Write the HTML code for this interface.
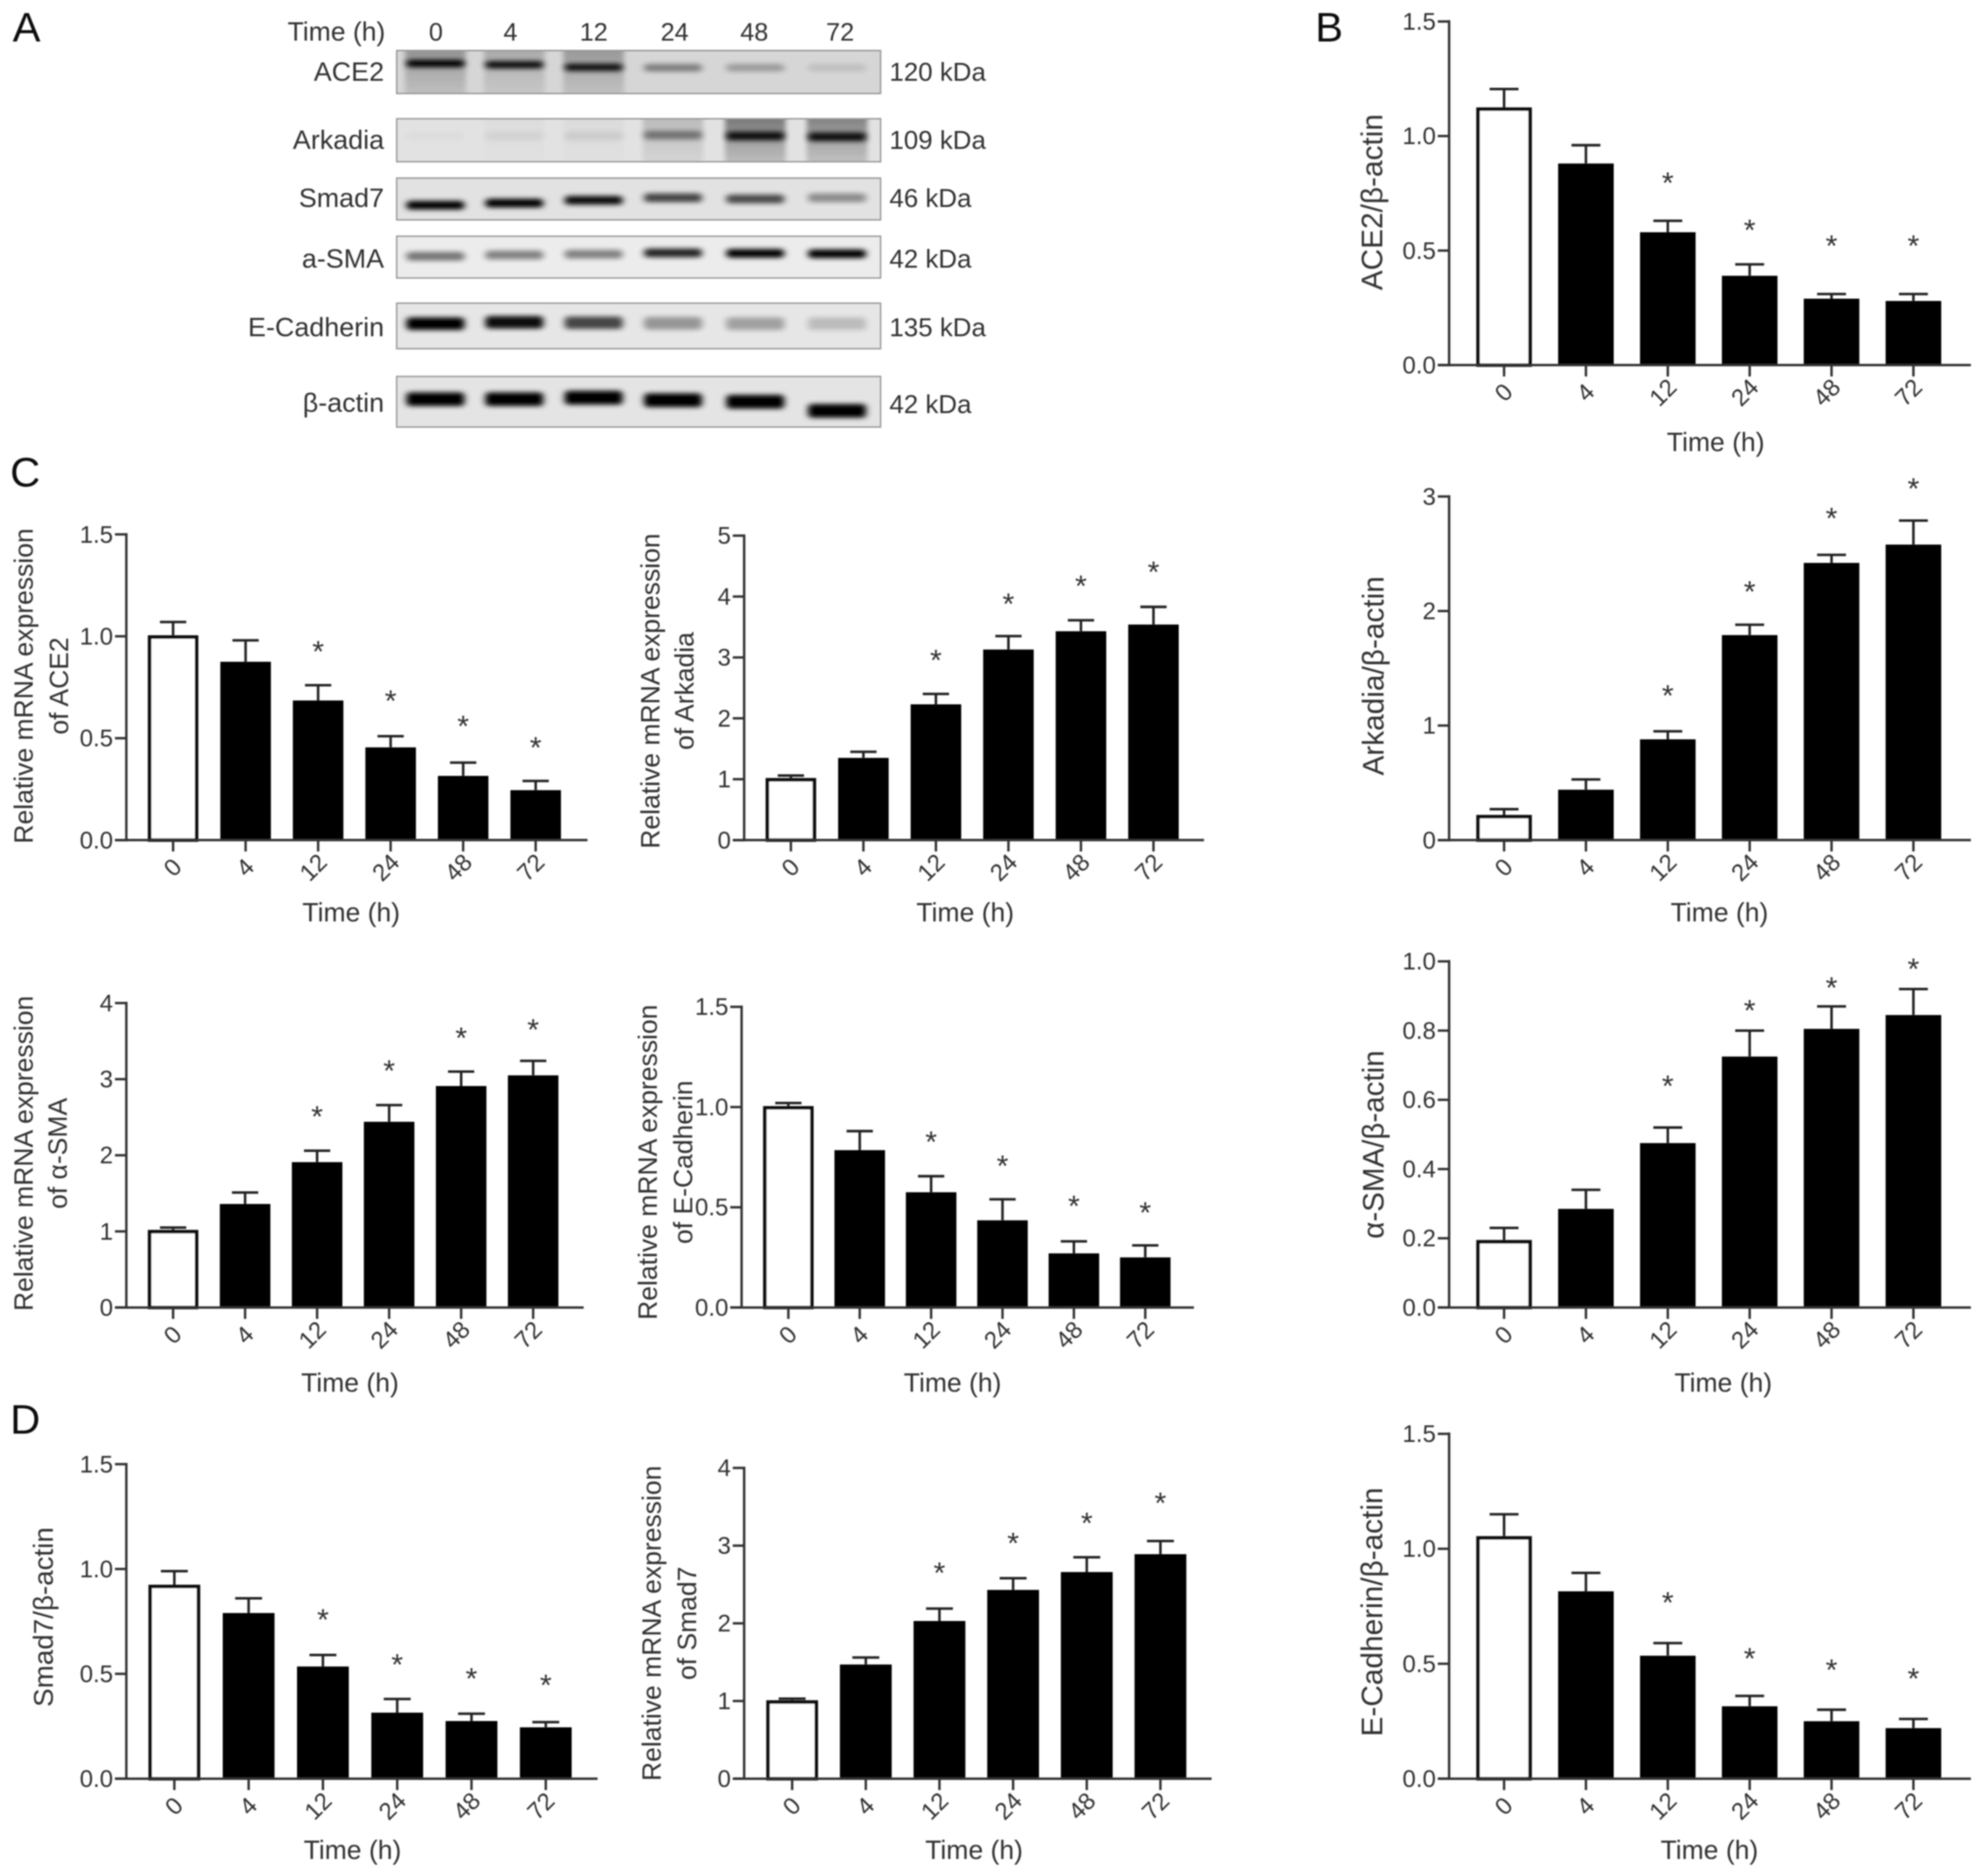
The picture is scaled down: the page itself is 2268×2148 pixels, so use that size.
<!DOCTYPE html>
<html lang="en">
<head>
<meta charset="utf-8">
<title>Time course of ACE2, Arkadia, Smad7, a-SMA and E-Cadherin</title>
<style>
  html, body { margin: 0; padding: 0; background: #fff; }
  svg { display: block; }
  text { font-family: "Liberation Sans", "DejaVu Sans", sans-serif; fill: #333; }
</style>
</head>
<body>
<svg id="figure" xmlns="http://www.w3.org/2000/svg" width="2268" height="2148" viewBox="0 0 1568 1485">
  <defs>
    <filter id="band-blur" x="-30%" y="-150%" width="160%" height="400%"><feGaussianBlur stdDeviation="2.8 1.9"/></filter>
    <filter id="smear-blur" x="-20%" y="-20%" width="140%" height="140%"><feGaussianBlur stdDeviation="2"/></filter>
    <filter id="soft" x="-5%" y="-5%" width="110%" height="110%"><feGaussianBlur stdDeviation="0.5"/></filter>
    <linearGradient id="smear-grad" x1="0" y1="0" x2="0" y2="1">
      <stop offset="0" stop-color="#000" stop-opacity="1"/>
      <stop offset="0.55" stop-color="#000" stop-opacity="0.55"/>
      <stop offset="1" stop-color="#000" stop-opacity="0.3"/>
    </linearGradient>
  </defs>
  <rect width="1568" height="1485" fill="#fff"/>
  <g id="root" filter="url(#soft)">
    <g font-size="33">
      <text x="10" y="33" style="fill:#111">A</text>
      <text x="1041" y="33" style="fill:#111">B</text>
      <text x="8" y="385" style="fill:#111">C</text>
      <text x="8" y="1135" style="fill:#111">D</text>
    </g>
    <g id="blot"></g>
    <g id="charts"></g>
  </g>
</svg>
<script>
// ---------- Shared categories ----------
const categories = ["0", "4", "12", "24", "48", "72"];

// ---------- Panel B: protein / beta-actin ----------
const ace2ProteinMeans = [1.125, 0.88, 0.58, 0.39, 0.29, 0.28];
const ace2ProteinErrors = [0.08, 0.08, 0.05, 0.05, 0.02, 0.03];
const ace2ProteinStars = [null, null, 0.805, 0.60, 0.53, 0.53];
const ace2ProteinTicks = ["0.0", "0.5", "1.0", "1.5"];

const arkadiaProteinMeans = [0.22, 0.44, 0.88, 1.79, 2.42, 2.58];
const arkadiaProteinErrors = [0.05, 0.09, 0.07, 0.09, 0.07, 0.21];
const arkadiaProteinStars = [null, null, 1.28, 2.19, 2.83, 3.09];
const arkadiaProteinTicks = ["0", "1", "2", "3"];

const smaProteinMeans = [0.195, 0.285, 0.475, 0.725, 0.805, 0.845];
const smaProteinErrors = [0.035, 0.055, 0.045, 0.075, 0.065, 0.075];
const smaProteinStars = [null, null, 0.646, 0.865, 0.93, 0.985];
const smaProteinTicks = ["0.0", "0.2", "0.4", "0.6", "0.8", "1.0"];

const ecadProteinMeans = [1.055, 0.815, 0.535, 0.315, 0.25, 0.22];
const ecadProteinErrors = [0.095, 0.08, 0.055, 0.045, 0.05, 0.04];
const ecadProteinStars = [null, null, 0.775, 0.533, 0.483, 0.445];
const ecadProteinTicks = ["0.0", "0.5", "1.0", "1.5"];

// ---------- Panel C: relative mRNA ----------
const ace2MrnaMeans = [1.005, 0.875, 0.685, 0.455, 0.315, 0.245];
const ace2MrnaErrors = [0.065, 0.105, 0.075, 0.055, 0.065, 0.045];
const ace2MrnaStars = [null, null, 0.936, 0.694, 0.57, 0.465];
const ace2MrnaTicks = ["0.0", "0.5", "1.0", "1.5"];

const arkadiaMrnaMeans = [1.02, 1.35, 2.23, 3.13, 3.43, 3.54];
const arkadiaMrnaErrors = [0.04, 0.10, 0.17, 0.22, 0.18, 0.29];
const arkadiaMrnaStars = [null, null, 2.99, 3.92, 4.21, 4.44];
const arkadiaMrnaTicks = ["0", "1", "2", "3", "4", "5"];

const smaMrnaMeans = [1.02, 1.36, 1.91, 2.44, 2.91, 3.05];
const smaMrnaErrors = [0.03, 0.15, 0.15, 0.22, 0.19, 0.19];
const smaMrnaStars = [null, null, 2.54, 3.14, 3.57, 3.68];
const smaMrnaTicks = ["0", "1", "2", "3", "4"];

const ecadMrnaMeans = [1.005, 0.785, 0.575, 0.435, 0.27, 0.25];
const ecadMrnaErrors = [0.015, 0.095, 0.08, 0.105, 0.06, 0.06];
const ecadMrnaStars = [null, null, 0.838, 0.718, 0.517, 0.485];
const ecadMrnaTicks = ["0.0", "0.5", "1.0", "1.5"];

// ---------- Panel D: Smad7 ----------
const smad7ProteinMeans = [0.925, 0.79, 0.535, 0.315, 0.275, 0.245];
const smad7ProteinErrors = [0.065, 0.07, 0.055, 0.065, 0.035, 0.025];
const smad7ProteinStars = [null, null, 0.77, 0.554, 0.488, 0.458];
const smad7ProteinTicks = ["0.0", "0.5", "1.0", "1.5"];

const smad7MrnaMeans = [1.01, 1.47, 2.03, 2.43, 2.66, 2.89];
const smad7MrnaErrors = [0.02, 0.09, 0.16, 0.15, 0.19, 0.17];
const smad7MrnaStars = [null, null, 2.68, 3.06, 3.32, 3.58];
const smad7MrnaTicks = ["0", "1", "2", "3", "4"];

// ---------- Western blot intensities (0..1 per lane) ----------
const blotRows = ["ACE2", "Arkadia", "Smad7", "a-SMA", "E-Cadherin", "β-actin"];
const blotSizes = ["120 kDa", "109 kDa", "46 kDa", "42 kDa", "135 kDa", "42 kDa"];
const ace2Bands = [1, 0.92, 0.9, 0.42, 0.28, 0.1];
const arkadiaBands = [0.02, 0.05, 0.08, 0.42, 0.9, 0.9];
const smad7Bands = [1, 1, 0.95, 0.7, 0.68, 0.38];
const smaBands = [0.5, 0.45, 0.45, 0.85, 1, 1];
const ecadBands = [1, 0.95, 0.7, 0.35, 0.3, 0.18];
const actinBands = [1, 1, 1, 1, 1, 1];

const SVGNS = "http://www.w3.org/2000/svg";
function make(tag, parent, attrs, text) {
  const el = document.createElementNS(SVGNS, tag);
  for (const k in attrs) el.setAttribute(k, attrs[k]);
  if (text !== undefined) el.textContent = text;
  parent.appendChild(el);
  return el;
}

// ---------- Chart drawing ----------
const chartLayouts = [
  { key: "ace2-protein", means: ace2ProteinMeans, errors: ace2ProteinErrors, stars: ace2ProteinStars, ticks: ace2ProteinTicks, yMax: 1.5,
    axisX: 1147, y0: 289, yTop: 17, first: 1190.5, step: 64.8, barW: 44, right: 1560, yTitle: ["ACE2/β-actin"], titleSize: 23.6, titleX: [1094], titleY: 160, xTitleX: 1358, xTitleY: 357 },
  { key: "arkadia-protein", means: arkadiaProteinMeans, errors: arkadiaProteinErrors, stars: arkadiaProteinStars, ticks: arkadiaProteinTicks, yMax: 3,
    axisX: 1147, y0: 665, yTop: 393, first: 1190.5, step: 64.8, barW: 44, right: 1560, yTitle: ["Arkadia/β-actin"], titleSize: 23.6, titleX: [1095], titleY: 535, xTitleX: 1361, xTitleY: 729.5 },
  { key: "sma-protein", means: smaProteinMeans, errors: smaProteinErrors, stars: smaProteinStars, ticks: smaProteinTicks, yMax: 1,
    axisX: 1147, y0: 1035, yTop: 761, first: 1190.5, step: 64.8, barW: 44, right: 1560, yTitle: ["α-SMA/β-actin"], titleSize: 23.4, titleX: [1095], titleY: 906, xTitleX: 1364, xTitleY: 1101.5 },
  { key: "ecad-protein", means: ecadProteinMeans, errors: ecadProteinErrors, stars: ecadProteinStars, ticks: ecadProteinTicks, yMax: 1.5,
    axisX: 1147, y0: 1408, yTop: 1135, first: 1190.5, step: 64.8, barW: 44, right: 1560, yTitle: ["E-Cadherin/β-actin"], titleSize: 23.6, titleX: [1094], titleY: 1276, xTitleX: 1353, xTitleY: 1471.5 },
  { key: "ace2-mrna", means: ace2MrnaMeans, errors: ace2MrnaErrors, stars: ace2MrnaStars, ticks: ace2MrnaTicks, yMax: 1.5,
    axisX: 100, y0: 665, yTop: 423, first: 137, step: 57.4, barW: 40, right: 465, yTitle: ["Relative mRNA expression", "of ACE2"], titleSize: 21, titleX: [26, 54], titleY: 543, xTitleX: 278, xTitleY: 729.5 },
  { key: "arkadia-mrna", means: arkadiaMrnaMeans, errors: arkadiaMrnaErrors, stars: arkadiaMrnaStars, ticks: arkadiaMrnaTicks, yMax: 5,
    axisX: 589, y0: 665, yTop: 424, first: 626, step: 57.4, barW: 40, right: 953, yTitle: ["Relative mRNA expression", "of Arkadia"], titleSize: 21, titleX: [522, 549], titleY: 547, xTitleX: 764, xTitleY: 729.5 },
  { key: "sma-mrna", means: smaMrnaMeans, errors: smaMrnaErrors, stars: smaMrnaStars, ticks: smaMrnaTicks, yMax: 4,
    axisX: 100, y0: 1035, yTop: 794, first: 137, step: 57, barW: 40, right: 462, yTitle: ["Relative mRNA expression", "of α-SMA"], titleSize: 21, titleX: [26, 53], titleY: 913, xTitleX: 277, xTitleY: 1101.5 },
  { key: "ecad-mrna", means: ecadMrnaMeans, errors: ecadMrnaErrors, stars: ecadMrnaStars, ticks: ecadMrnaTicks, yMax: 1.5,
    axisX: 587, y0: 1035, yTop: 797, first: 624, step: 56.5, barW: 40, right: 945, yTitle: ["Relative mRNA expression", "of E-Cadherin"], titleSize: 21, titleX: [520, 548], titleY: 920, xTitleX: 754, xTitleY: 1101.5 },
  { key: "smad7-protein", means: smad7ProteinMeans, errors: smad7ProteinErrors, stars: smad7ProteinStars, ticks: smad7ProteinTicks, yMax: 1.5,
    axisX: 100, y0: 1408, yTop: 1159, first: 138, step: 58.8, barW: 41, right: 473, yTitle: ["Smad7/β-actin"], titleSize: 22, titleX: [42], titleY: 1280, xTitleX: 279, xTitleY: 1471.5 },
  { key: "smad7-mrna", means: smad7MrnaMeans, errors: smad7MrnaErrors, stars: smad7MrnaStars, ticks: smad7MrnaTicks, yMax: 4,
    axisX: 589, y0: 1408, yTop: 1162, first: 627, step: 58.3, barW: 41, right: 959, yTitle: ["Relative mRNA expression", "of Smad7"], titleSize: 21, titleX: [523, 551], titleY: 1285, xTitleX: 771, xTitleY: 1471.5 }
];

function drawChart(c) {
  const host = document.getElementById("charts");
  const g = make("g", host, {});
  
  

  const yScale = v => c.y0 - (v / c.yMax) * (c.y0 - c.yTop);
  const xScale = i => c.first + i * c.step;

  // bars and error bars
  c.means.forEach((m, i) => {
    const cx = xScale(i);
    const top = yScale(m);
    const errTop = yScale(m + c.errors[i]);

    const stem = make("line", g, { x1: cx, x2: cx, y1: top, y2: errTop, stroke: "#222", "stroke-width": 2 });
    
    

    const cap = make("line", g, { x1: cx - c.barW * 0.26, x2: cx + c.barW * 0.26, y1: errTop, y2: errTop, stroke: "#222", "stroke-width": 2 });
    
    

    const isControl = i === 0;
    const bar = make("rect", g, {
      x: cx - c.barW / 2 + (isControl ? 1.4 : 0),
      y: top + (isControl ? 1.4 : 0),
      width: c.barW - (isControl ? 2.8 : 0),
      height: Math.max(0, c.y0 - top - (isControl ? 1.4 : 0)),
      fill: isControl ? "#fff" : "#000",
      stroke: isControl ? "#111" : "none",
      "stroke-width": isControl ? 2.8 : 0
    });
    
    

    if (c.stars[i] !== null) {
      const star = make("text", g, { x: cx, y: yScale(c.stars[i]) + 9.8, "text-anchor": "middle", "font-size": 24 }, "*");
      
      
    }
  });

  // y axis
  const yAxis = make("line", g, { x1: c.axisX, x2: c.axisX, y1: c.yTop - 1, y2: c.y0 + 1, stroke: "#333", "stroke-width": 1.9 });
  
  

  c.ticks.forEach((label, i) => {
    const v = (i / (c.ticks.length - 1)) * c.yMax;
    const y = yScale(v);
    const tick = make("line", g, { x1: c.axisX - 9, x2: c.axisX, y1: y, y2: y, stroke: "#333", "stroke-width": 1.9 });
    
    
    const tl = make("text", g, { x: c.axisX - 10.5, y: y + 6.5, "text-anchor": "end", "font-size": 19 }, label);
    
    
  });

  // x axis
  const xAxis = make("line", g, { x1: c.axisX - 9, x2: c.right, y1: c.y0, y2: c.y0, stroke: "#333", "stroke-width": 1.9 });
  
  

  categories.forEach((label, i) => {
    const cx = xScale(i);
    const tick = make("line", g, { x1: cx, x2: cx, y1: c.y0, y2: c.y0 + 9, stroke: "#333", "stroke-width": 1.9 });
    
    
    const lx = cx - (label.length > 1 ? 3.5 : 0);
    const ly = c.y0 + 22;
    const tl = make("text", g, { x: lx, y: ly + 6, "text-anchor": "middle", "font-size": 19, transform: "rotate(-45 " + lx + " " + ly + ")" }, label);
    
    
  });

  // titles
  c.yTitle.forEach((line, i) => {
    const tx = c.titleX[i];
    const t = make("text", g, { x: tx, y: c.titleY, "text-anchor": "middle", "font-size": c.titleSize, transform: "rotate(-90 " + tx + " " + c.titleY + ")" }, line);
    
    
  });
  const xt = make("text", g, { x: c.xTitleX, y: c.xTitleY, "text-anchor": "middle", "font-size": 21 }, "Time (h)");
  
  
}
chartLayouts.forEach(drawChart);

// ---------- Western blot drawing ----------
const blotX = 314, blotW = 383;
const laneFractions = [0.08, 0.243, 0.407, 0.571, 0.741, 0.91];
const laneLabelCenters = [345, 404, 470, 534, 597, 665];
const blotLayouts = [
  { bands: ace2Bands, top: 40, h: 34, bg: "#d6d6d6", labelY: 64, bandY: [0.3, 0.33, 0.39, 0.4, 0.4, 0.4], bandH: 6, smear: [0.36, 0.24, 0.34, 0, 0, 0] },
  { bands: arkadiaBands, top: 94, h: 34, bg: "#e2e2e2", labelY: 118, bandY: [0.4, 0.4, 0.4, 0.38, 0.4, 0.42], bandH: 7, smear: [0, 0.02, 0.03, 0.2, 0.55, 0.5] },
  { bands: smad7Bands, top: 141, h: 33, bg: "#e2e2e2", labelY: 164, bandY: [0.65, 0.6, 0.53, 0.47, 0.5, 0.47], bandH: 7, smear: [0, 0, 0, 0, 0, 0] },
  { bands: smaBands, top: 187, h: 33, bg: "#ececec", labelY: 212, bandY: [0.48, 0.45, 0.43, 0.4, 0.41, 0.42], bandH: 7, smear: [0, 0, 0, 0, 0, 0] },
  { bands: ecadBands, top: 240, h: 36, bg: "#e6e6e6", labelY: 266, bandY: [0.45, 0.42, 0.43, 0.44, 0.45, 0.45], bandH: 10, smear: [0, 0, 0, 0, 0, 0] },
  { bands: actinBands, top: 298, h: 40, bg: "#e4e4e4", labelY: 326, bandY: [0.45, 0.45, 0.42, 0.47, 0.5, 0.68], bandH: 11, smear: [0, 0, 0, 0, 0, 0] }
];

const blotHost = document.getElementById("blot");
const timeHeader = make("text", blotHost, { x: 305, y: 32, "text-anchor": "end", "font-size": 21 }, "Time (h)");



categories.forEach((label, i) => {
  const t = make("text", blotHost, { x: laneLabelCenters[i], y: 32, "text-anchor": "middle", "font-size": 20 }, label);
  
  
});

blotLayouts.forEach((b, r) => {
  const rowKey = blotRows[r].toLowerCase();
  const strip = make("g", blotHost, {});
  
  

  make("rect", strip, { x: blotX, y: b.top, width: blotW, height: b.h, fill: b.bg });
  const clipId = "clip-" + r;
  const clip = make("clipPath", strip, { id: clipId });
  make("rect", clip, { x: blotX, y: b.top, width: blotW, height: b.h });
  const inner = make("g", strip, { "clip-path": "url(#" + clipId + ")" });

  b.bands.forEach((v, i) => {
    const cx = blotX + laneFractions[i] * blotW;
    const w = 46;
    if (b.smear[i] > 0) {
      make("rect", inner, { x: cx - w / 2 - 1, y: b.top - 3, width: w + 2, height: b.h + 6, fill: "url(#smear-grad)", opacity: b.smear[i] * 0.9, filter: "url(#smear-blur)" });
    }
    const cy = b.top + b.bandY[i] * b.h;
    const band = make("rect", inner, { x: cx - w / 2, y: cy - b.bandH / 2, width: w, height: b.bandH, rx: 3, fill: "#000", opacity: v, filter: "url(#band-blur)" });
    
    
  });

  make("rect", strip, { x: blotX, y: b.top, width: blotW, height: b.h, fill: "none", stroke: "#9a9a9a", "stroke-width": 1.2 });

  const label = make("text", blotHost, { x: 304, y: b.labelY, "text-anchor": "end", "font-size": 21.3 }, blotRows[r]);
  
  

  const size = make("text", blotHost, { x: 704, y: b.labelY + (r === 5 ? 1 : 0), "font-size": 20.5 }, blotSizes[r]);
  
  
});
</script>
</body>
</html>
